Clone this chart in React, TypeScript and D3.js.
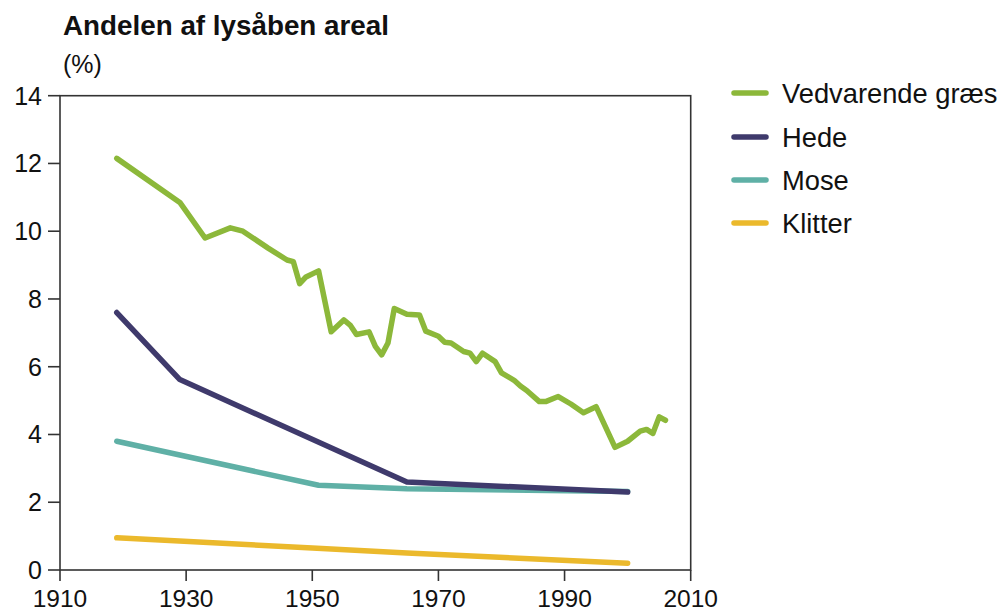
import React, { useRef, useEffect } from 'react';
import * as d3 from 'd3';

// Vedvarende græs
const graesYears = [1919, 1929, 1933, 1937, 1939, 1943, 1946, 1947, 1948, 1949, 1951, 1953, 1955, 1956, 1957, 1959, 1960, 1961, 1962, 1963, 1965, 1967, 1968, 1970, 1971, 1972, 1974, 1975, 1976, 1977, 1979, 1980, 1982, 1983, 1984, 1986, 1987, 1989, 1991, 1993, 1995, 1998, 2000, 2002, 2003, 2004, 2005, 2006];
const graesValues = [12.15, 10.85, 9.8, 10.1, 10.0, 9.5, 9.15, 9.1, 8.45, 8.65, 8.83, 7.03, 7.38, 7.23, 6.95, 7.03, 6.6, 6.35, 6.7, 7.72, 7.55, 7.53, 7.05, 6.9, 6.72, 6.7, 6.45, 6.4, 6.15, 6.4, 6.15, 5.82, 5.6, 5.43, 5.3, 4.97, 4.97, 5.12, 4.9, 4.64, 4.82, 3.62, 3.8, 4.1, 4.15, 4.03, 4.52, 4.42];

const hedeYears = [1919, 1929, 1965, 2000];
const hedeValues = [7.6, 5.62, 2.6, 2.3];

const moseYears = [1919, 1951, 1965, 2000];
const moseValues = [3.8, 2.5, 2.4, 2.32];

const klitterYears = [1919, 1950, 1965, 2000];
const klitterValues = [0.95, 0.65, 0.5, 0.2];

const xTicks = [1910, 1930, 1950, 1970, 1990, 2010];
const yTicks = [0, 2, 4, 6, 8, 10, 12, 14];

const seriesNames = ['Vedvarende græs', 'Hede', 'Mose', 'Klitter'];
const seriesColors = ['#8cb83a', '#3f3a6c', '#5fb0a6', '#ebb92c'];

const FONT = '"Liberation Sans", Arial, sans-serif';

export default function App() {
    const svgRef = useRef<SVGSVGElement>(null);

    useEffect(() => {
        if (!svgRef.current) return;
        const svg = d3.select(svgRef.current);
        svg.selectAll('*').remove();

        const x = d3.scaleLinear().domain([1910, 2010]).range([60, 690.7]);
        const y = d3.scaleLinear().domain([0, 14]).range([570, 95.7]);

        // title
        svg.append('text')
            .attr('x', 63).attr('y', 35)
            .attr('font-family', FONT).attr('font-weight', 'bold')
            .attr('font-size', 27.8).attr('fill', '#111')
            .text('Andelen af lysåben areal');
        svg.append('text')
            .attr('x', 63).attr('y', 73)
            .attr('font-family', FONT)
            .attr('font-size', 25).attr('fill', '#111')
            .text('(%)');

        // frame
        svg.append('rect')
            .attr('x', x(1910)).attr('y', y(14))
            .attr('width', x(2010) - x(1910)).attr('height', y(0) - y(14))
            .attr('fill', 'none').attr('stroke', '#333').attr('stroke-width', 1.6);

        // y ticks
        yTicks.forEach(t => {
            svg.append('line')
                .attr('x1', x(1910) - 12).attr('x2', x(1910))
                .attr('y1', y(t)).attr('y2', y(t))
                .attr('stroke', '#333').attr('stroke-width', 1.6);
            svg.append('text')
                .attr('x', 42).attr('y', y(t))
                .attr('dy', '0.36em')
                .attr('text-anchor', 'end')
                .attr('font-family', FONT).attr('font-size', 25).attr('fill', '#111')
                .text(t);
        });

        // x ticks
        xTicks.forEach(t => {
            svg.append('line')
                .attr('x1', x(t)).attr('x2', x(t))
                .attr('y1', y(0)).attr('y2', y(0) + 11)
                .attr('stroke', '#333').attr('stroke-width', 1.6);
            svg.append('text')
                .attr('x', x(t)).attr('y', 607)
                .attr('text-anchor', 'middle')
                .attr('font-family', FONT).attr('font-size', 24.5).attr('fill', '#111')
                .text(t);
        });

        const line = d3.line<[number, number]>()
            .x(d => x(d[0]))
            .y(d => y(d[1]));

        const series: [number, number][][] = [
            graesYears.map((yr, i) => [yr, graesValues[i]]),
            hedeYears.map((yr, i) => [yr, hedeValues[i]]),
            moseYears.map((yr, i) => [yr, moseValues[i]]),
            klitterYears.map((yr, i) => [yr, klitterValues[i]]),
        ];

        // draw bottom-most first so green is on top
        [3, 2, 1, 0].forEach(i => {
            svg.append('path')
                .attr('d', line(series[i]))
                .attr('fill', 'none')
                .attr('stroke', seriesColors[i])
                .attr('stroke-width', 5.5)
                .attr('stroke-linejoin', 'round')
                .attr('stroke-linecap', 'round');
        });

        // legend
        const legendY = [93, 137, 180, 223];
        seriesNames.forEach((name, i) => {
            svg.append('line')
                .attr('x1', 734).attr('x2', 766)
                .attr('y1', legendY[i]).attr('y2', legendY[i])
                .attr('stroke', seriesColors[i])
                .attr('stroke-width', 5.5)
                .attr('stroke-linecap', 'round');
            svg.append('text')
                .attr('x', 782).attr('y', legendY[i])
                .attr('dy', '0.36em')
                .attr('font-family', FONT).attr('font-size', 27.3).attr('fill', '#111')
                .text(name);
        });
    }, []);

    return (
        <svg ref={svgRef} width={1000} height={612}
            style={{ position: 'absolute', left: 0, top: 0, background: '#fff' }} />
    );
}
